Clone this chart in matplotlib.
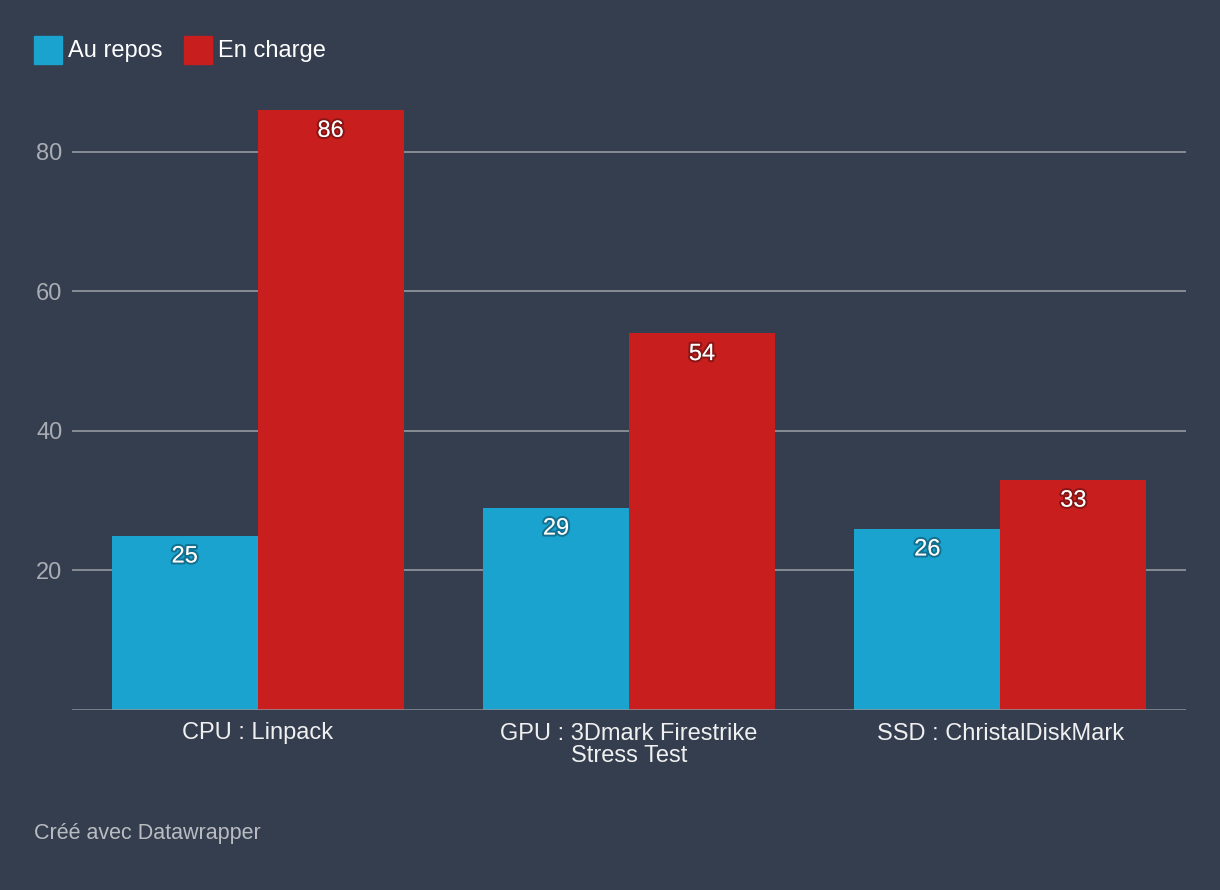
import numpy as np
import matplotlib
matplotlib.use("Agg")
import matplotlib.pyplot as plt
import matplotlib.patheffects as pe
from matplotlib.patches import Rectangle

categories = ["CPU : Linpack", "GPU : 3Dmark Firestrike\nStress Test", "SSD : ChristalDiskMark"]
series_names = ["Au repos", "En charge"]
repos = [25, 29, 26]
charge = [86, 54, 33]
yticks = [20, 40, 60, 80]

bg = "#343e4f"
blue = "#1aa3cf"
red = "#c81e1e"

plt.rcParams['font.family'] = ['Liberation Sans', 'DejaVu Sans']

fig = plt.figure(figsize=(12.2, 8.9), dpi=100, facecolor=bg)
ax = fig.add_axes([72/1220, 180/890, 1114/1220, 600/890])
ax.set_facecolor(bg)

x = np.arange(len(categories))
w = 0.393
b1 = ax.bar(x - w/2, repos, w, color=blue, zorder=3)
b2 = ax.bar(x + w/2, charge, w, color=red, zorder=3)

ax.set_xlim(-0.5, 2.5)
ax.set_ylim(0, 86)

for t in yticks:
    ax.axhline(t, color="#8e9299", lw=1.3, zorder=1)
ax.axhline(0, color="#8e9299", lw=1.8, zorder=4)

ax.set_yticks(yticks)
ax.set_yticklabels([str(t) for t in yticks], color="#a9adb3", fontsize=17)
ax.set_xticks(x)
ax.set_xticklabels(categories, color="#f0f0f0", fontsize=17, linespacing=1.0)
ax.tick_params(axis='both', length=0)
ax.tick_params(axis='y', pad=7)
ax.tick_params(axis='x', pad=9)
for s in ax.spines.values():
    s.set_visible(False)

shadow = [pe.withStroke(linewidth=3, foreground=(0, 0, 0, 0.3))]
for bars, vals in [(b1, repos), (b2, charge)]:
    for bar, v in zip(bars, vals):
        ax.annotate(str(v), (bar.get_x() + bar.get_width()/2, v), xytext=(0, -15),
                    textcoords="offset points", ha="center", va="center",
                    color="white", fontsize=17, zorder=5, path_effects=shadow)

# legend
lx = 34
for name, col in zip(series_names, [blue, red]):
    fig.patches.append(Rectangle((lx/1220, (890-64)/890), 28/1220, 28/890,
                                 transform=fig.transFigure, color=col))
    t = fig.text((lx + 34)/1220, (890-51)/890, name, color="white", fontsize=17, va="center", ha="left")
    fig.canvas.draw()
    bb = t.get_window_extent()
    lx = bb.x1 + 21

fig.text(34/1220, (890-833)/890, "Créé avec Datawrapper", color="#b9bcc1", fontsize=15.5, va="center", ha="left")

fig.savefig("out.png", dpi=100, facecolor=bg)
